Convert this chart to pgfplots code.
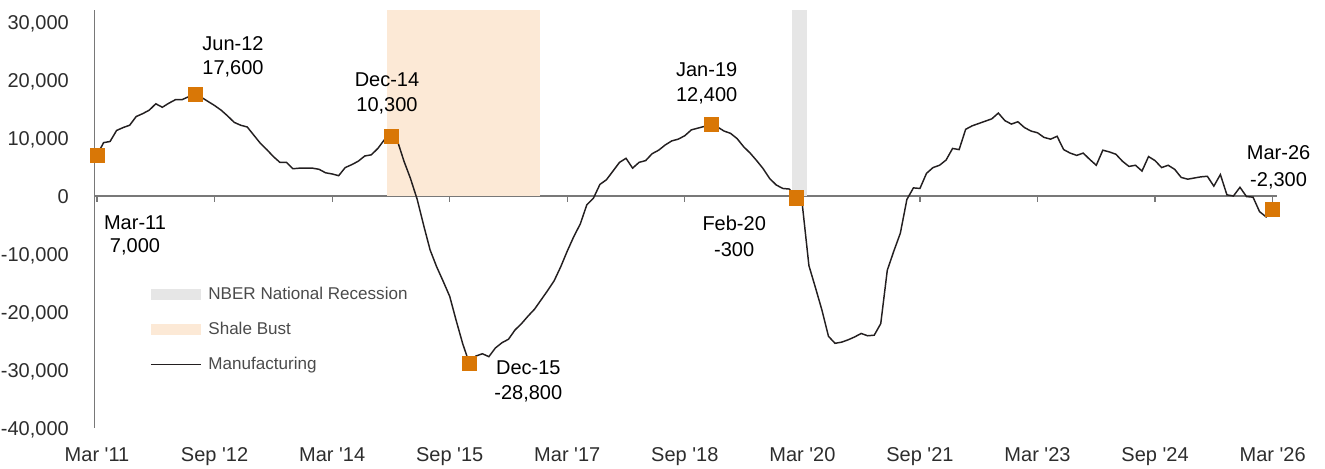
\documentclass[border=0pt]{standalone}
\usepackage{fontspec}
\setmainfont{Liberation Sans}
\usepackage{pgfplots}
\usepackage{pgfplotstable}
\pgfplotsset{compat=1.18}

\definecolor{mkorange}{RGB}{217,119,6}
\definecolor{shale}{RGB}{252,233,214}
\definecolor{recess}{RGB}{230,230,230}
\definecolor{axgray}{RGB}{120,120,120}
\definecolor{ticktext}{RGB}{45,45,45}
\definecolor{legtext}{RGB}{75,75,75}
\definecolor{mfgline}{RGB}{35,31,32}

\pgfplotsset{
  swatch/.style={legend image code/.code={\fill[##1] (0pt,-3.9pt) rectangle (37.5pt,3.9pt);}},
  lineswatch/.style={legend image code/.code={\draw[##1] (0pt,0pt) -- (37.5pt,0pt);}},
}

% monthly change, m = months since Mar 2011
\pgfplotstableread{
m v
0 7000
1 9200
2 9400
3 11300
4 11800
5 12200
6 13700
7 14200
8 14800
9 15900
10 15300
11 16000
12 16600
13 16600
14 17100
15 17600
16 17000
17 16300
18 15600
19 14800
20 13800
21 12700
22 12200
23 11900
24 10500
25 9100
26 8000
27 6800
28 5800
29 5800
30 4700
31 4800
32 4800
33 4800
34 4600
35 4000
36 3800
37 3500
38 4900
39 5400
40 6000
41 6900
42 7100
43 8200
44 9700
45 10300
46 9500
47 6000
48 3000
49 -500
50 -5000
51 -9300
52 -12200
53 -14700
54 -17300
55 -21500
56 -25500
57 -28800
58 -27600
59 -27200
60 -27700
61 -26200
62 -25300
63 -24700
64 -23100
65 -22000
66 -20700
67 -19500
68 -17900
69 -16300
70 -14600
71 -12200
72 -9500
73 -7000
74 -4800
75 -1500
76 -400
77 2000
78 2800
79 4300
80 5800
81 6500
82 4800
83 5800
84 6100
85 7300
86 7900
87 8800
88 9500
89 9800
90 10400
91 11400
92 11700
93 12000
94 12400
95 11900
96 11200
97 10800
98 9900
99 8500
100 7400
101 6100
102 4700
103 3000
104 1900
105 1300
106 1200
107 -300
108 -1600
109 -12000
110 -15800
111 -19700
112 -24200
113 -25400
114 -25200
115 -24800
116 -24300
117 -23700
118 -24100
119 -24000
120 -22000
121 -12800
122 -9500
123 -6400
124 -600
125 1400
126 1300
127 3900
128 4900
129 5300
130 6200
131 8200
132 8000
133 11500
134 12100
135 12500
136 12900
137 13300
138 14300
139 13000
140 12400
141 12800
142 11800
143 11200
144 10900
145 10100
146 9800
147 10300
148 8000
149 7400
150 7000
151 7400
152 6300
153 5300
154 7900
155 7600
156 7200
157 6000
158 5100
159 5300
160 4300
161 6800
162 6100
163 4900
164 5300
165 4600
166 3200
167 2900
168 3100
169 3300
170 3400
171 1700
172 3700
173 200
174 0
175 1500
176 -100
177 -200
178 -2700
179 -3600
180 -2300
}\mfg

\pgfplotstableread{
m v
0 7000
15 17600
45 10300
57 -28800
94 12400
107 -300
180 -2300
}\peaks

\begin{document}
\begin{tikzpicture}
\useasboundingbox (0,0) rectangle (993.75pt,351pt);
\begin{axis}[
  at={(70.8pt,30pt)}, anchor=south west,
  scale only axis, width=887.1pt, height=313.2pt,
  xmin=-0.4, xmax=180.7, ymin=-40000, ymax=32000,
  clip=false,
  axis x line=middle, axis y line=left,
  axis line style={-, draw=axgray, line width=1pt},
  xtick={0,18,...,180},
  xticklabels={Mar \textquotesingle{}11, Sep \textquotesingle{}12, Mar \textquotesingle{}14, Sep \textquotesingle{}15, Mar \textquotesingle{}17, Sep \textquotesingle{}18, Mar \textquotesingle{}20, Sep \textquotesingle{}21, Mar \textquotesingle{}23, Sep \textquotesingle{}24, Mar \textquotesingle{}26},
  ytick={-40000,-30000,...,30000},
  yticklabels={{-40,000},{-30,000},{-20,000},{-10,000},{0},{10,000},{20,000},{30,000}},
  tick align=outside, major tick length=4.5pt,
  xtick style={draw=axgray, line width=0.9pt},
  ytick style={draw=none},
  tick label style={font=\fontsize{15pt}{18pt}\selectfont, text=ticktext},
  xticklabel style={anchor=base, yshift=-194.5pt},
  yticklabel style={anchor=east, inner sep=0pt, xshift=-14.5pt, text height=10.7pt, text depth=0pt},
  legend cell align=left,
  legend style={at={(0.047,0.3376)}, anchor=north west, draw=none, fill=none,
    inner sep=0pt, row sep=15.5pt, column sep=5pt,
    font=\fontsize{12.8pt}{15pt}\selectfont, text=legtext,
    nodes={inner sep=0pt}},
]
\addplot[swatch, fill=recess, draw=none] coordinates {(106.46,0) (106.46,32000) (108.76,32000) (108.76,0)};
\addlegendentry{NBER National Recession}
\addplot[swatch, fill=shale, draw=none] coordinates {(44.45,0) (44.45,32000) (67.83,32000) (67.83,0)};
\addlegendentry{Shale Bust}
\addplot[lineswatch, mfgline, line width=1.1pt, mark=none] table[x=m, y=v] {\mfg};
\addlegendentry{Manufacturing}
\addplot[forget plot, only marks, mark=square*, mark size=5.3pt, mark options={fill=mkorange, draw=mkorange, line width=0.4pt}] table[x=m, y=v] {\peaks};

\begin{scope}[every node/.style={font=\fontsize{15pt}{18pt}\selectfont, text=black, anchor=base, inner sep=0pt}]
\node at (axis cs:5.82,-5690) {Mar-11};
\node at (axis cs:5.82,-9827) {7,000};
\node at (axis cs:20.82,25034) {Jun-12};
\node at (axis cs:20.82,20931) {17,600};
\node at (axis cs:44.40,18793) {Dec-14};
\node at (axis cs:44.40,14483) {10,300};
\node at (axis cs:66.04,-30758) {Dec-15};
\node at (axis cs:66.04,-35137) {-28,800};
\node at (axis cs:93.35,20620) {Jan-19};
\node at (axis cs:93.35,16362) {12,400};
\node at (axis cs:97.56,-6034) {Feb-20};
\node at (axis cs:97.56,-10414) {-300};
\node at (axis cs:180.91,6241) {Mar-26};
\node at (axis cs:180.91,1707) {-2,300};
\end{scope}
\end{axis}
\end{tikzpicture}
\end{document}
